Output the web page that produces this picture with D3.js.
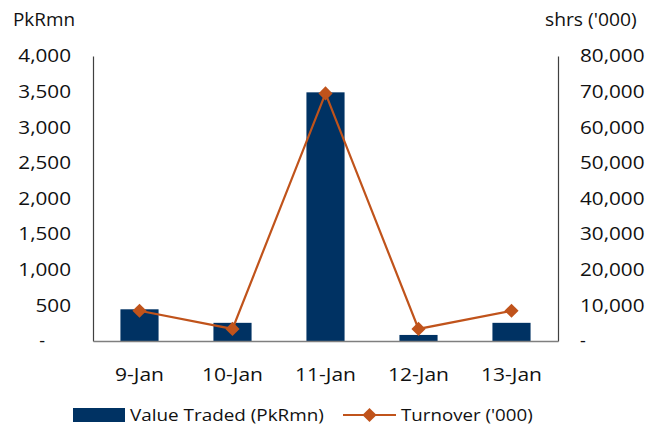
<!DOCTYPE html>
<html>
<head>
<meta charset="utf-8">
<script src="https://cdn.jsdelivr.net/npm/d3@7"></script>
<style>
  html, body { margin: 0; padding: 0; background: #fff; }
  svg text { font-family: "Open Sans", sans-serif; fill: #111; }
</style>
</head>
<body>
<svg id="chart" width="662" height="429"></svg>
<script>
// Daily market activity
const days = ["9-Jan", "10-Jan", "11-Jan", "12-Jan", "13-Jan"];
const valueTraded = [445, 255, 3490, 85, 255];          // PkRmn
const turnover = [8500, 3400, 69500, 3400, 8500];       // shares ('000)
const leftTicks = [0, 500, 1000, 1500, 2000, 2500, 3000, 3500, 4000];
const rightTicks = [0, 10000, 20000, 30000, 40000, 50000, 60000, 70000, 80000];

const barColor = "#003263";
const lineColor = "#C0531B";

const svg = d3.select("#chart");
const plot = { left: 93, right: 558, top: 56, bottom: 341 };

const x = d3.scaleBand().domain(days).range([plot.left, plot.right])
  .paddingInner(0.59).paddingOuter(0.295);
const yL = d3.scaleLinear().domain([0, 4000]).range([plot.bottom, plot.top]);
const yR = d3.scaleLinear().domain([0, 80000]).range([plot.bottom, plot.top]);

const fmt = d3.format(",");

// widen glyph runs a little so labels read like the wide report face
function stretch(sel, k) {
  sel.each(function () {
    const w = this.getComputedTextLength();
    d3.select(this).attr("textLength", w * k).attr("lengthAdjust", "spacingAndGlyphs");
  });
}

// Bars
svg.append("g").selectAll("rect").data(valueTraded).join("rect")
  .attr("x", (d, i) => x(days[i]))
  .attr("width", x.bandwidth())
  .attr("y", d => yL(d))
  .attr("height", d => yL(0) - yL(d))
  .attr("fill", barColor);

// Axes
const leftAxis = svg.append("g")
  .attr("transform", `translate(${plot.left},0)`)
  .call(d3.axisLeft(yL).tickValues(leftTicks).tickSize(0).tickPadding(22)
    .tickFormat(d => d === 0 ? "-" : fmt(d)));
const rightAxis = svg.append("g")
  .attr("transform", `translate(${plot.right},0)`)
  .call(d3.axisRight(yR).tickValues(rightTicks).tickSize(0).tickPadding(22)
    .tickFormat(d => d === 0 ? "-" : fmt(d)));
const bottomAxis = svg.append("g")
  .attr("transform", `translate(0,${plot.bottom})`)
  .call(d3.axisBottom(x).tickSize(0).tickPadding(28));

[leftAxis, rightAxis, bottomAxis].forEach(g => {
  g.select(".domain").attr("stroke", "#404040").attr("stroke-width", 1.2);
  g.selectAll("text").attr("font-size", 18).attr("font-family", "Open Sans").attr("fill", "#111");
});
bottomAxis.select(".domain").attr("stroke", "#7f7f7f").attr("stroke-width", 1.5);
bottomAxis.selectAll("text").attr("font-size", 17.5);
// accounting-style dash for zero sits left of the digit column
leftAxis.selectAll(".tick").filter(d => d === 0).select("text").attr("dx", -26);
stretch(leftAxis.selectAll("text").filter(d => d !== 0), 1.15);
stretch(rightAxis.selectAll("text").filter(d => d !== 0), 1.15);
stretch(bottomAxis.selectAll("text"), 1.2);

// Line + diamond markers
const line = d3.line()
  .x((d, i) => x(days[i]) + x.bandwidth() / 2)
  .y(d => yR(d));
svg.append("path").datum(turnover)
  .attr("d", line).attr("fill", "none")
  .attr("stroke", lineColor).attr("stroke-width", 2.2);
const diamond = d3.symbol().type(d3.symbolSquare).size(100);
svg.append("g").selectAll("path").data(turnover).join("path")
  .attr("d", diamond)
  .attr("transform", (d, i) => `translate(${x(days[i]) + x.bandwidth() / 2},${yR(d)}) rotate(45)`)
  .attr("fill", lineColor);

// Axis titles
const t1 = svg.append("text").attr("x", 13).attr("y", 26).attr("font-size", 18).text("PkRmn");
const t2 = svg.append("text").attr("x", 545).attr("y", 26).attr("font-size", 18).text("shrs ('000)");
stretch(t1, 1.05);
stretch(t2, 1.07);

// Legend
const lg = svg.append("g");
lg.append("rect").attr("x", 73).attr("y", 408).attr("width", 52).attr("height", 14).attr("fill", barColor);
const l1 = lg.append("text").attr("x", 130).attr("y", 421).attr("font-size", 17).text("Value Traded (PkRmn)");
lg.append("line").attr("x1", 343).attr("x2", 396).attr("y1", 415).attr("y2", 415)
  .attr("stroke", lineColor).attr("stroke-width", 2.2);
lg.append("path").attr("d", diamond).attr("transform", "translate(369.5,415) rotate(45)").attr("fill", lineColor);
const l2 = lg.append("text").attr("x", 401).attr("y", 421).attr("font-size", 17).text("Turnover ('000)");
stretch(l1, 1.11);
stretch(l2, 1.1);
</script>
</body>
</html>
